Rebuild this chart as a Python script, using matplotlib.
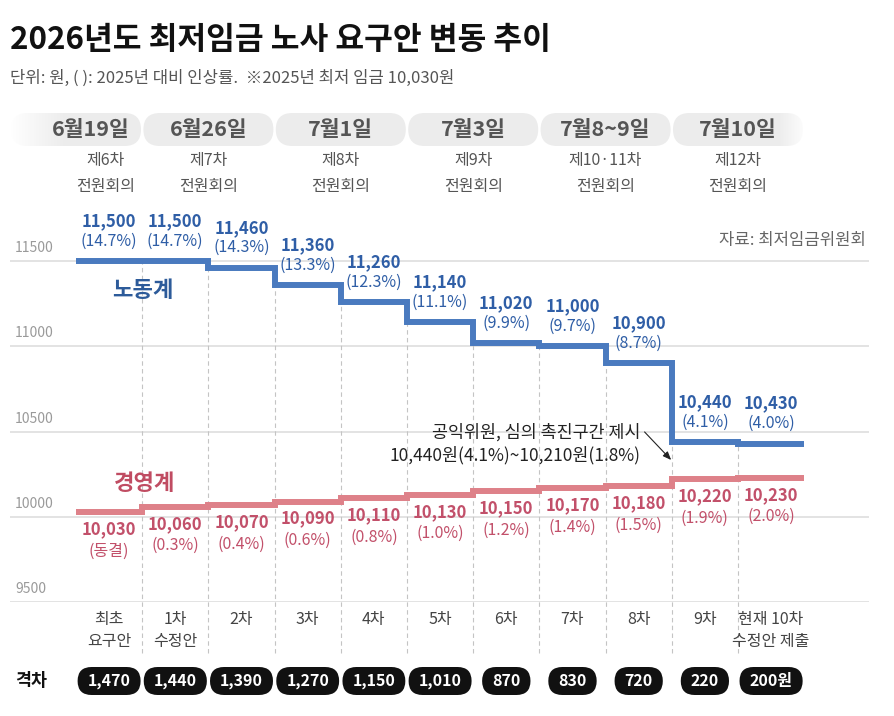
import numpy as np
import matplotlib
matplotlib.use('Agg')
import matplotlib.pyplot as plt
from matplotlib.patches import FancyBboxPatch

plt.rcParams['font.family'] = ['Noto Sans CJK KR', 'DejaVu Sans']

# ---- data ----
stages = ['최초\n요구안', '1차\n수정안', '2차', '3차', '4차', '5차', '6차', '7차', '8차', '9차',
          '현재 10차\n수정안 제출']
labor = [11500, 11500, 11460, 11360, 11260, 11140, 11020, 11000, 10900, 10440, 10430]
labor_pct = ['14.7%', '14.7%', '14.3%', '13.3%', '12.3%', '11.1%', '9.9%', '9.7%', '8.7%', '4.1%', '4.0%']
biz = [10030, 10060, 10070, 10090, 10110, 10130, 10150, 10170, 10180, 10220, 10230]
biz_pct = ['동결', '0.3%', '0.4%', '0.6%', '0.8%', '1.0%', '1.2%', '1.4%', '1.5%', '1.9%', '2.0%']
gap = [1470, 1440, 1390, 1270, 1150, 1010, 870, 830, 720, 220, 200]
meet_dates = ['6월19일', '6월26일', '7월1일', '7월3일', '7월8~9일', '7월10일']
meet_names = ['제6차', '제7차', '제8차', '제9차', '제10·11차', '제12차']
meet_x = [-0.5, 1.5, 3.5, 5.5, 7.5, 9.5]
yticks = [9500, 10000, 10500, 11000, 11500]

BLUE = '#4a7abf'
BLUE_T = '#2f5ea6'
RED = '#de8189'
RED_T = '#c2506a'

W, H = 894, 716
fig = plt.figure(figsize=(W / 100, H / 100), dpi=100)

# pixel overlay for decorations
bg = fig.add_axes([0, 0, 1, 1])
bg.axis('off')

# main chart axes
ax = fig.add_axes([10 / W, 1 - 602.3 / H, 859 / W, (602.3 - 209.8) / H])
ax.set_facecolor('none')
ax.set_xlim(-1.497, 11.479)
ax.set_ylim(9500, 11800)
ax.axis('off')


def to_px(x, y):
    px, py = ax.transData.transform((x, y))
    return px, H - py


# grid + y labels
x0, x1 = ax.get_xlim()
ax.hlines(yticks, x0, x1, color='#dedede', lw=1.2, zorder=0)
for v in yticks:
    ax.annotate(str(v), (x0, v), xytext=(5, 13), textcoords='offset pixels',
                ha='left', va='center', fontsize=10, color='#9a9a9a')

# dashed separators
n = len(labor)
for i in range(n - 1):
    top = min(labor[i], labor[i + 1])
    ax.vlines(i + 0.5, 9200, top, colors='#c4c4c4', lw=0.8,
              linestyles=(0, (4, 3)), clip_on=False, zorder=1)

# step lines
xs = np.arange(n + 1) - 0.5
ax.step(xs, labor + [labor[-1]], where='post', color=BLUE, lw=4.3, zorder=3,
        solid_joinstyle='miter', solid_capstyle='butt')
ax.step(xs, biz + [biz[-1]], where='post', color=RED, lw=4.3, zorder=3,
        solid_joinstyle='miter', solid_capstyle='butt')

# value labels
for i in range(n):
    ax.annotate(f'{labor[i]:,}', (i, labor[i]), xytext=(0, 40), textcoords='offset pixels',
                ha='center', va='center', fontsize=12, fontweight='bold', color=BLUE_T)
    ax.annotate(f'({labor_pct[i]})', (i, labor[i]), xytext=(0, 20), textcoords='offset pixels',
                ha='center', va='center', fontsize=11.5, color=BLUE_T)
    ax.annotate(f'{biz[i]:,}', (i, biz[i]), xytext=(0, -17), textcoords='offset pixels',
                ha='center', va='center', fontsize=12, fontweight='bold', color=RED_T)
    ax.annotate(f'({biz_pct[i]})', (i, biz[i]), xytext=(0, -39), textcoords='offset pixels',
                ha='center', va='center', fontsize=11.5, color=RED_T)

# x stage labels
for i, s in enumerate(stages):
    for k, line in enumerate(s.split('\n')):
        ax.annotate(line, (i, 9500), xytext=(0, -17 - 22 * k), textcoords='offset pixels',
                    ha='center', va='center', fontsize=11.5, color='#444444', annotation_clip=False)

# series names
ax.text(0.51, 11330, '노동계', ha='center', va='center', fontsize=16, fontweight='bold', color='#2d5b9a')
ax.text(0.53, 10199, '경영계', ha='center', va='center', fontsize=16, fontweight='bold', color='#c04c62')

# public-interest annotation
ax.text(8.03, 10498, '공익위원, 심의 촉진구간 제시', ha='right', va='center', fontsize=12.5, color='#222222')
ax.text(8.03, 10363, '10,440원(4.1%)~10,210원(1.8%)', ha='right', va='center', fontsize=12.5, color='#222222')
ax.annotate('', xy=(8.52, 10322), xytext=(8.06, 10510),
            arrowprops=dict(arrowstyle='-|>,head_length=0.5,head_width=0.2', color='#222222', lw=0.8))

# header: meeting pills
for k, cx in enumerate(meet_x):
    px_l, _ = to_px(cx - 1, 11000)
    px_r, _ = to_px(cx + 1, 11000)
    bg.add_patch(FancyBboxPatch((px_l + 1.2, 113), px_r - px_l - 2.4, 33,
                                boxstyle='round,pad=0,rounding_size=16.5',
                                fc='#ececec', ec='none', zorder=1))
date_dx = [15, 0, 0, 0, 0, 0]
name_dx = [30, 0, 0, 0, 0, 0]
for k, cx in enumerate(meet_x):
    px_c, _ = to_px(cx, 11000)
    bg.text(px_c + date_dx[k], 130, meet_dates[k], ha='center', va='center',
            fontsize=15.5, fontweight='bold', color='#555555', zorder=3)
    bg.text(px_c + name_dx[k], 161, meet_names[k], ha='center', va='center',
            fontsize=11.5, color='#555555')
    bg.text(px_c + name_dx[k], 186, '전원회의', ha='center', va='center',
            fontsize=11.5, color='#555555')

# fades at the ends of the pill row
grad = np.ones((1, 200, 4))
grad[0, :, 3] = np.linspace(1, 0, 200)
bg.imshow(grad, extent=[10, 66, 147, 112], aspect='auto', interpolation='bilinear', zorder=2)
grad2 = np.ones((1, 200, 4))
grad2[0, :, 3] = np.linspace(0, 1, 200)
bg.imshow(grad2, extent=[778, 808, 147, 112], aspect='auto', interpolation='bilinear', zorder=2)

# gap badges
renderer = fig.canvas.get_renderer()
bg.text(31, 681, '격차', ha='center', va='center', fontsize=12.5, fontweight='bold', color='#111111')
for i, g in enumerate(gap):
    lbl = f'{g:,}' + ('원' if i == n - 1 else '')
    px_c, _ = to_px(i, 9500)
    t = bg.text(px_c, 681, lbl, ha='center', va='center', fontsize=11.5,
                fontweight='bold', color='white', zorder=3)
    tw = t.get_window_extent(renderer=renderer).width
    bw = tw + 20
    bg.add_patch(FancyBboxPatch((px_c - bw / 2, 667), bw, 28,
                                boxstyle='round,pad=0,rounding_size=14',
                                fc='#111111', ec='none', zorder=2))

# titles
bg.text(10, 40, '2026년도 최저임금 노사 요구안 변동 추이', ha='left', va='center',
        fontsize=22.5, fontweight='bold', color='#111111')
bg.text(10, 78, '단위: 원, ( ): 2025년 대비 인상률.  ※2025년 최저 임금 10,030원', ha='left',
        va='center', fontsize=12, color='#555555')
bg.text(866, 240, '자료: 최저임금위원회', ha='right', va='center', fontsize=12, color='#666666')

bg.set_xlim(0, W)
bg.set_ylim(H, 0)

fig.savefig('out.png', dpi=100, facecolor='white')
